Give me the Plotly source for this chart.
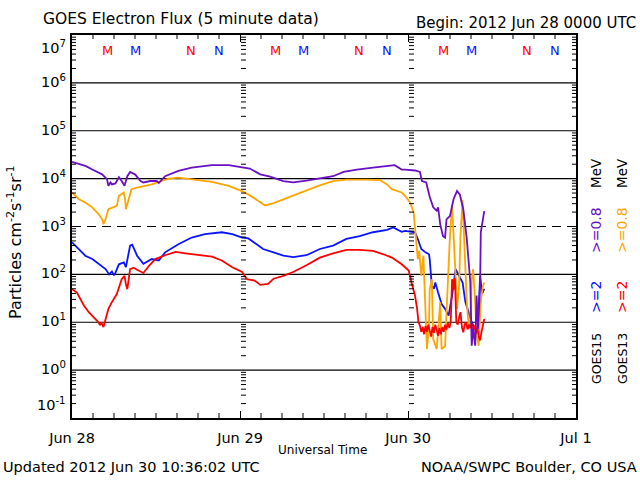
import numpy as np
import plotly.graph_objects as go

W, H = 640, 480
ML, MR, MT, MB = 72, 64, 35, 62

# ---- data: time in hours since 2012 Jun 28 00:00 UTC, values as log10(flux) ----
g15_e08_t = [0, 1, 2, 2.9, 4.3, 5.0, 5.2, 5.5, 5.7, 6.2, 6.7, 7.1, 7.5, 7.9, 8.3, 9.0, 9.8, 10.2,
             11.2, 12.1, 12.4, 13.3, 15.2, 17.1, 20, 22.4, 24.3, 25.4, 26.9, 28.3, 30.2, 31.6,
             33.5, 35.4, 37.3, 38.8, 40.7, 43, 45, 46.1, 47.1, 47.6, 49, 49.7, 50.0, 50.6, 51.1,
             51.6, 52.1, 52.3, 52.6, 53.0, 53.3, 53.5, 54, 54.5, 55, 55.4, 55.9, 56.4, 56.9, 57.1,
             57.3, 57.6, 57.8, 58, 58.3, 58.4, 58.7, 58.9]
g15_e08_log = [4.35, 4.30, 4.26, 4.19, 4.09, 3.99, 3.85, 3.92, 3.88, 3.90, 4.03, 3.95, 3.85, 4.05,
               4.14, 4.09, 3.95, 3.92, 3.95, 3.95, 3.91, 4.05, 4.16, 4.23, 4.28, 4.28, 4.23, 4.21,
               4.09, 4.04, 3.95, 3.92, 3.96, 4.00, 4.05, 4.14, 4.19, 4.23, 4.26, 4.28, 4.19, 4.19,
               4.17, 4.14, 3.95, 3.92, 3.62, 3.40, 3.33, 3.40, 3.05, 2.80, 2.77, 3.15, 3.22, 3.57,
               3.74, 3.67, 3.36, 2.74, 1.84, 0.51, 0.86, 0.51, 1.56, 0.86, 1.76, 2.88, 3.15, 3.32]

g13_e08_t = [0, 1, 1.9, 2.9, 3.8, 4.3, 4.5, 4.8, 5.2, 6, 6.4, 6.7, 7.4, 7.6, 7.7, 8.1, 8.5, 9.3,
             10.5, 11.4, 12.4, 13.8, 15.2, 17.1, 20, 22.4, 24.3, 25.4, 26.6, 27.6, 28.8, 30.2,
             31.6, 33.5, 35.4, 37.3, 39.2, 42.1, 44, 45, 45.7, 47.1, 47.6, 48.3, 48.8, 49.1, 49.4,
             49.6, 49.9, 50.2, 50.5, 50.7, 51, 51.1, 51.4, 51.6, 52.1, 52.3, 52.6, 52.8, 53.3,
             53.5, 53.8, 54, 54.3, 54.5, 54.8, 55, 55.3, 55.5, 55.8, 56.1, 56.4, 56.7, 56.9, 57.1,
             57.3, 57.6, 57.8, 58.1, 58.4, 58.7, 58.9]
g13_e08_log = [3.71, 3.57, 3.50, 3.40, 3.26, 3.15, 3.05, 3.15, 3.36, 3.40, 3.43, 3.64, 3.71, 3.55,
               3.36, 3.57, 3.78, 3.81, 3.85, 3.88, 3.93, 4.00, 4.02, 3.98, 3.93, 3.85, 3.74, 3.65,
               3.53, 3.44, 3.49, 3.57, 3.64, 3.76, 3.86, 3.95, 3.98, 3.98, 3.97, 3.88, 3.78, 3.71,
               3.64, 3.50, 3.30, 2.81, 2.32, 2.49, 1.97, 2.39, 0.93, 0.44, 0.93, 1.69, 1.90, 0.65,
               0.44, 0.93, 1.42, 0.44, 0.50, 1.21, 2.35, 2.81, 3.45, 2.94, 1.97, 1.28, 1.76, 2.81,
               3.55, 2.46, 1.42, 0.86, 1.07, 1.90, 2.11, 1.42, 0.72, 0.51, 1.42, 1.76, 1.83]

g15_e2_t = [0, 1, 1.9, 2.9, 3.8, 4.8, 5.3, 5.7, 6.0, 6.2, 6.7, 7.4, 7.7, 8.3, 8.6, 9.3, 10.2, 11.4,
            12.4, 13.3, 15.2, 17.1, 19, 21.4, 22.9, 24.3, 25.2, 26.4, 27.3, 28.8, 30.2, 31.6, 33.5,
            35.4, 37.3, 39.2, 41.1, 43, 45, 45.9, 47.1, 47.6, 48.5, 49, 49.4, 49.9, 50.5, 51, 51.1,
            51.4, 51.7, 51.9, 52.3, 52.8, 53.3, 53.8, 54.3, 54.6, 54.8, 55.3, 55.8, 56.2, 56.7,
            57.1, 57.6, 58, 58.3, 58.6, 58.9]
g15_e2_log = [2.67, 2.53, 2.39, 2.32, 2.22, 2.11, 2.00, 2.06, 1.98, 2.03, 2.21, 2.25, 2.15, 2.60,
              2.62, 2.39, 2.22, 2.32, 2.29, 2.46, 2.63, 2.77, 2.84, 2.88, 2.84, 2.77, 2.75, 2.63,
              2.53, 2.46, 2.39, 2.36, 2.40, 2.53, 2.60, 2.74, 2.80, 2.88, 2.93, 2.98, 2.89, 2.91,
              2.89, 2.88, 2.74, 2.53, 2.46, 2.42, 2.32, 1.76, 1.70, 1.83, 1.62, 1.38, 1.28, 1.14,
              1.56, 1.97, 2.11, 1.97, 1.83, 1.42, 1.21, 1.00, 0.86, 0.93, 1.97, 1.60, 1.70]

g13_e2_t = [0, 0.7, 1.7, 2.4, 3.1, 3.5, 3.8, 4.0, 4.2, 4.5, 4.8, 5.2, 5.7, 6.4, 7.1, 7.5, 7.7, 7.9,
            8.3, 8.8, 9.5, 10.2, 11, 11.9, 13.3, 14.8, 16.2, 18.1, 20, 21.4, 22.9, 24.3, 25, 26.1,
            26.9, 28, 28.8, 30.2, 31.6, 33.5, 35.4, 37.3, 39.2, 41.1, 43, 44.5, 45.7, 47.1, 47.6,
            48.1, 48.5, 49, 49.3, 49.5, 49.7, 49.9, 50.1, 50.3, 50.5, 50.7, 50.9, 51.1, 51.3,
            51.5, 51.7, 51.9, 52.1, 52.3, 52.5, 52.7, 52.9, 53.1, 53.3, 53.5, 53.7, 53.9, 54.1,
            54.3, 54.5, 54.7, 54.9, 55.1, 55.3, 55.5, 55.7, 55.9, 56.1, 56.3, 56.5, 56.7, 56.9,
            57.1, 57.3, 57.5, 57.7, 57.9, 58.1, 58.3, 58.5, 58.7, 58.9]
g13_e2_log = [1.69, 1.62, 1.35, 1.21, 1.10, 1.04, 1.00, 0.94, 0.99, 0.90, 1.07, 1.28, 1.42, 1.59,
              1.90, 1.97, 1.80, 1.69, 2.11, 2.14, 2.08, 2.03, 2.18, 2.32, 2.40, 2.47, 2.44, 2.40,
              2.37, 2.29, 2.15, 2.05, 1.90, 1.87, 1.78, 1.80, 1.91, 1.97, 2.05, 2.19, 2.35, 2.44,
              2.51, 2.51, 2.49, 2.42, 2.35, 2.21, 2.15, 2.08, 1.83, 1.56, 1.28, 1.00, 0.93, 0.80,
              0.90, 0.75, 0.92, 0.80, 0.95, 0.85, 0.70, 0.90, 0.78, 0.95, 0.82, 0.72, 0.88, 0.75,
              0.90, 0.80, 0.95, 0.85, 0.98, 0.88, 1.00, 1.90, 1.69, 1.92, 1.00, 0.95, 1.10, 1.21,
              0.90, 0.79, 0.95, 1.00, 0.85, 0.95, 0.88, 0.98, 0.85, 0.93, 0.76, 0.90, 0.70, 0.62,
              0.80, 0.93, 1.07]

day_ticks = [0, 24, 48, 72]
day_labels = ["Jun 28", "Jun 29", "Jun 30", "Jul 1"]
hour_ticks = [h for h in range(3, 72, 3) if h % 24 != 0]
decades = [-1, 0, 1, 2, 3, 4, 5, 6, 7]
decade_labels = ["10<sup>%d</sup>" % d for d in decades]
# local midnight (M) / noon (N) hours for each satellite
g13_mn_hours = [5, 17]
g15_mn_hours = [9, 21]
mn_letters = ["M", "N"]

PURPLE = "#6a10c4"
ORANGE = "#ffa500"
BLUE = "#0a14ff"
RED = "#ff0000"
FONT = "DejaVu Sans"
YMIN, YMAX = -1, 7


def px_x(px):
    return (px - ML) / (W - ML - MR)


def px_y(py):
    return (H - MB - py) / (H - MT - MB)


fig = go.Figure()
series = [
    (g15_e2_t, g15_e2_log, BLUE, "GOES15 >=2 MeV"),
    (g13_e08_t, g13_e08_log, ORANGE, "GOES13 >=0.8 MeV"),
    (g13_e2_t, g13_e2_log, RED, "GOES13 >=2 MeV"),
    (g15_e08_t, g15_e08_log, PURPLE, "GOES15 >=0.8 MeV"),
]
for t, lg, col, name in series:
    fig.add_trace(go.Scatter(x=t, y=np.power(10.0, np.array(lg)), mode="lines",
                             line=dict(color=col, width=1.8), name=name, showlegend=False))

shapes = []
# decade grid lines
for d in decades[1:-1]:
    shapes.append(dict(type="line", xref="paper", x0=0, x1=1, yref="y", y0=10.0 ** d, y1=10.0 ** d,
                       line=dict(color="black", width=1.2, dash="9px,6px" if d == 3 else "solid"),
                       layer="below"))
# log minor ticks on the axes and at each day boundary
for xa in day_ticks:
    if xa == 72:
        a, b = -4, 0
    elif xa == 0:
        a, b = 0, 4
    else:
        a, b = 1, 6
    for d in decades[:-1]:
        for m in range(2, 10):
            v = m * 10.0 ** d
            shapes.append(dict(type="line", xref="x", xsizemode="pixel", xanchor=xa, x0=a, x1=b,
                               yref="y", y0=v, y1=v, line=dict(color="black", width=1)))
# 3-hour minor ticks on bottom and top axes
for h in hour_ticks:
    shapes.append(dict(type="line", xref="x", x0=h, x1=h, yref="paper", ysizemode="pixel",
                       yanchor=0, y0=0, y1=5, line=dict(color="black", width=1)))
    shapes.append(dict(type="line", xref="x", x0=h, x1=h, yref="paper", ysizemode="pixel",
                       yanchor=1, y0=-4, y1=0, line=dict(color="black", width=1)))

ann = []
def text(s, x, y, size=14.5, color="black", xanchor="center", angle=0):
    ann.append(dict(text=s, x=px_x(x), y=px_y(y), xref="paper", yref="paper", showarrow=False,
                    xanchor=xanchor, yanchor="middle", textangle=angle,
                    font=dict(family=FONT, size=size, color=color)))

text("GOES Electron Flux (5 minute data)", 41, 19, size=15.5, xanchor="left")
text("Begin: 2012 Jun 28 0000 UTC", 638, 23, size=15, xanchor="right")
text("Universal Time", 322, 450, size=12)
text("Updated 2012 Jun 30 10:36:02 UTC", 1, 467, size=14.5, xanchor="left")
text("NOAA/SWPC Boulder, CO USA", 639, 467, size=14.5, xanchor="right")
text("Particles cm<sup>-2</sup>s<sup>-1</sup>sr<sup>-1</sup>", 15, 242, size=16, angle=-90)

# y tick labels (decades); top and bottom ones kept inside the frame as in the original
for d, lab in zip(decades, decade_labels):
    frac = (d - YMIN) / (YMAX - YMIN)
    ann.append(dict(text=lab, x=px_x(68), y=frac, xref="paper", yref="paper", showarrow=False,
                    xanchor="right", yanchor="top" if d == YMAX else ("bottom" if d == YMIN else "middle"),
                    yshift=-1 if d == YMAX else (3 if d == YMIN else 2),
                    font=dict(family=FONT, size=14.5, color="black")))

# right side legend (rotated)
for xc, sat, c2, c08 in [(596, "GOES15", BLUE, PURPLE), (622, "GOES13", RED, ORANGE)]:
    text(sat, xc, 359, size=12.5, angle=-90)
    text(">=2", xc, 297, size=14, color=c2, angle=-90)
    text(">=0.8", xc, 230, size=14, color=c08, angle=-90)
    text("MeV", xc, 173, size=13.5, angle=-90)

# M / N markers along the top
for day in range(3):
    for hrs, col in [(g13_mn_hours, RED), (g15_mn_hours, BLUE)]:
        for h, letter in zip(hrs, mn_letters):
            ann.append(dict(text=letter, x=day * 24 + h, y=px_y(51), xref="x", yref="paper",
                            showarrow=False, xanchor="center", yanchor="middle",
                            font=dict(family=FONT, size=13, color=col)))

fig.update_layout(
    width=W, height=H,
    margin=dict(l=ML, r=MR, t=MT, b=MB, autoexpand=False),
    paper_bgcolor="white", plot_bgcolor="white",
    font=dict(family=FONT, size=14.5, color="black"),
    shapes=shapes, annotations=ann, showlegend=False,
    xaxis=dict(range=[0, 72], tickmode="array", tickvals=day_ticks, ticktext=day_labels,
               ticks="inside", ticklen=7, tickwidth=1, tickcolor="black",
               showgrid=False, zeroline=False, showline=True, linecolor="black", linewidth=1.5,
               mirror="ticks", ticklabelstandoff=6,
               tickfont=dict(family=FONT, size=14.5)),
    yaxis=dict(type="log", range=[YMIN, YMAX], tickmode="array",
               tickvals=[10.0 ** d for d in decades], showticklabels=False,
               ticks="", showgrid=False, zeroline=False, showline=True, linecolor="black",
               linewidth=1.5, mirror=True),
)

fig.write_html("out.html")
